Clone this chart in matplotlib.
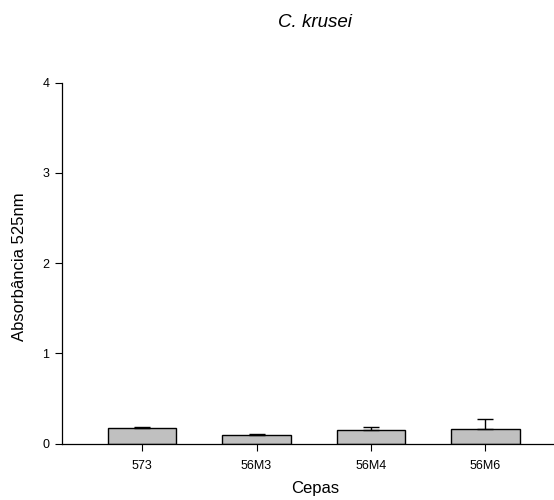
import numpy as np
import matplotlib
matplotlib.use('Agg')
import matplotlib.pyplot as plt

# Datos
cepas = ["573", "56M3", "56M4", "56M6"]
absorbancia = [0.171, 0.089, 0.149, 0.166]
erro = [0.011, 0.016, 0.033, 0.108]

plt.rcParams['font.family'] = ['Liberation Sans', 'DejaVu Sans']

fig = plt.figure(figsize=(5.54, 5.00), dpi=100)
ax = fig.add_axes([62/554, 1 - 443.5/500, 492/554, (443.5 - 82.7)/500])

x = np.arange(len(cepas))
ax.bar(x, absorbancia, width=0.6, color='#c0c0c0', edgecolor='black', linewidth=1.0, zorder=2)
ax.errorbar(x, absorbancia, yerr=[np.zeros(len(erro)), erro], fmt='none',
            ecolor='black', elinewidth=1.0, capsize=6, capthick=1.0, zorder=3)

ax.set_xlim(-0.70, 3.60)
ax.set_ylim(0, 4)
ax.set_yticks([0, 1, 2, 3, 4])
ax.set_xticks(x)
ax.set_xticklabels(cepas)
ax.tick_params(axis='both', labelsize=9, length=5, width=0.8, direction='out')
ax.tick_params(axis='x', pad=7)
ax.tick_params(axis='y', pad=4)

for s in ['top', 'right']:
    ax.spines[s].set_visible(False)
for s in ['left', 'bottom']:
    ax.spines[s].set_linewidth(0.9)

# Etiquetas
ax.set_xlabel('Cepas', fontsize=12, va='baseline')
ax.xaxis.set_label_coords((315 - 62) / 492, (443.5 - 492.7) / 360.8)
ax.set_ylabel('Absorbância 525nm', fontsize=12, va='center')
ax.yaxis.set_label_coords((20 - 62) / 492, (443.5 - 266.5) / 360.8)

fig.text(315/554, 1 - 27.3/500, 'C. krusei', fontsize=13.5, style='italic', ha='center', va='baseline')

plt.savefig('out.png', dpi=100)
